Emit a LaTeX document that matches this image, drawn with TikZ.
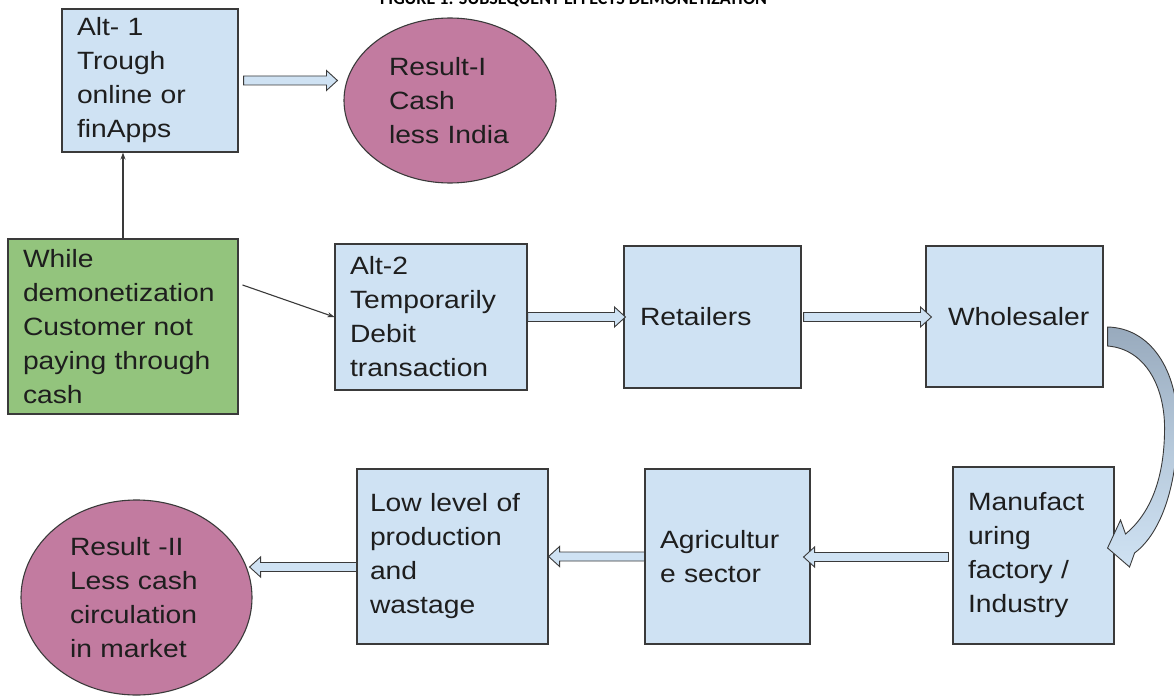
\documentclass[tikz,border=0pt]{standalone}
\usepackage{fontspec}
\setmainfont{Liberation Sans}[FakeStretch=1.13]
\newfontfamily\titlefont{Carlito}
\usetikzlibrary{shapes.geometric,arrows.meta,calc}
\definecolor{boxblue}{HTML}{CFE2F3}
\definecolor{boxgreen}{HTML}{93C47D}
\definecolor{boxpink}{HTML}{C27BA0}
\definecolor{linec}{HTML}{3A3A3A}
\definecolor{txtc}{HTML}{1E1E1E}
\definecolor{curvetop}{HTML}{98AABD}
\tikzset{
  base/.style={draw=linec, line width=1.1pt, text=txtc, inner sep=0pt,
    font=\fontsize{25}{34}\selectfont, align=left},
  bluebox/.style={base, rectangle, fill=boxblue},
  greenbox/.style={base, rectangle, fill=boxgreen},
  pinkell/.style={base, ellipse, fill=boxpink},
  harrowstyle/.style={draw=linec, fill=boxblue, line width=0.9pt, line join=miter},
  thinline/.style={draw=linec, line width=1.1pt, -{Stealth[length=7pt,width=5pt]}}
}
\newcommand{\hollowarr}[2]{%
  \draw[harrowstyle] let \p1=(#1), \p2=(#2), \n1={sign(\x2-\x1)} in
    (\x1,{\y1+4.5pt}) -- ({\x2-(\n1)*11pt},{\y1+4.5pt}) -- ({\x2-(\n1)*11pt},{\y1+10pt})
    -- (\x2,\y1) -- ({\x2-(\n1)*11pt},{\y1-10pt}) -- ({\x2-(\n1)*11pt},{\y1-4.5pt})
    -- (\x1,{\y1-4.5pt}) -- cycle;}
\begin{document}
\begin{tikzpicture}[x=1pt,y=-1pt]
\useasboundingbox (0,0) rectangle (1174,698);
\fill[white] (0,0) rectangle (1174,698);

\node[anchor=base west, font=\titlefont\bfseries\fontsize{18}{18}\selectfont, text=black, inner sep=0pt] (title) at (380,5) {FIGURE 1: SUBSEQUENT EFFECTS DEMONETIZATION};

% top row
\node[bluebox, minimum width=176pt, minimum height=143pt, text width=146pt] (alt1) at (150,80.5)
  {Alt- 1\\Trough\\online or\\finApps};
\node[pinkell, minimum width=212pt, minimum height=165pt, text width=122pt] (res1) at (450,100.5)
  {Result-I\\Cash\\less India};

% middle row
\node[greenbox, minimum width=230pt, minimum height=175pt, text width=200pt] (green) at (123,326.5)
  {While\\demonetization\\Customer not\\paying through\\cash};
\node[bluebox, minimum width=192pt, minimum height=146pt, text width=162pt] (alt2) at (431,317)
  {Alt-2\\Temporarily\\Debit\\transaction};
\node[bluebox, minimum width=177pt, minimum height=142pt, text width=145pt] (ret) at (712.5,317)
  {Retailers};
\node[bluebox, minimum width=177pt, minimum height=141pt, text width=133pt] (whole) at (1014.5,316.5)
  {Wholesaler};

% bottom row
\node[bluebox, minimum width=161pt, minimum height=177pt, text width=131pt] (manu) at (1033.5,555.5)
  {Manufact\\uring\\factory /\\Industry};
\node[bluebox, minimum width=165pt, minimum height=175pt, text width=135pt] (agri) at (727.5,556.5)
  {Agricultur\\e sector};
\node[bluebox, minimum width=191pt, minimum height=175pt, text width=165pt] (low) at (452.5,556.5)
  {Low level of\\production\\and\\wastage};
\node[pinkell, minimum width=231pt, minimum height=195pt, text width=133pt] (res2) at (136.5,597.5)
  {Result -II\\Less cash\\circulation\\in market};

% thin connectors
\draw[thinline] (green.north) -- (alt1.south -| green.north);
\coordinate (gs) at ([shift={(4pt,41.5pt)}]green.east);
\draw[thinline] (gs) -- (alt2.west);

% hollow arrows
\hollowarr{[xshift=5pt]alt1.east}{[xshift=-6pt]res1.west}
\hollowarr{alt2.east}{[xshift=2pt]ret.west}
\hollowarr{[xshift=2pt]ret.east}{[xshift=6pt]whole.west}
\hollowarr{[shift={(-4pt,-1.5pt)}]manu.west}{[xshift=-7pt]agri.east}
\hollowarr{agri.west}{low.east}
\hollowarr{[yshift=-10.5pt]low.west}{[shift={(-3pt,-10.5pt)}]low.west -| res2.east}

% curved arrow from Wholesaler to Manufacturing
\coordinate (cs) at ([shift={(4pt,-10.5pt)}]whole.east);
\begin{scope}[shift={(cs)}]
\shadedraw[top color=curvetop, bottom color=boxblue, middle color=curvetop!45!boxblue, draw=linec, line width=0.9pt, line join=miter]
  (0,0) .. controls (43,1) and (70,43) .. (70,98)
  .. controls (70,155) and (55,205) .. (27,226)
  -- (22,240) -- (0,221) -- (13,193) -- (18,207)
  .. controls (42,187) and (57,153) .. (57,101)
  .. controls (57,60) and (38,22) .. (0,19) -- cycle;
\end{scope}
\end{tikzpicture}
\end{document}
